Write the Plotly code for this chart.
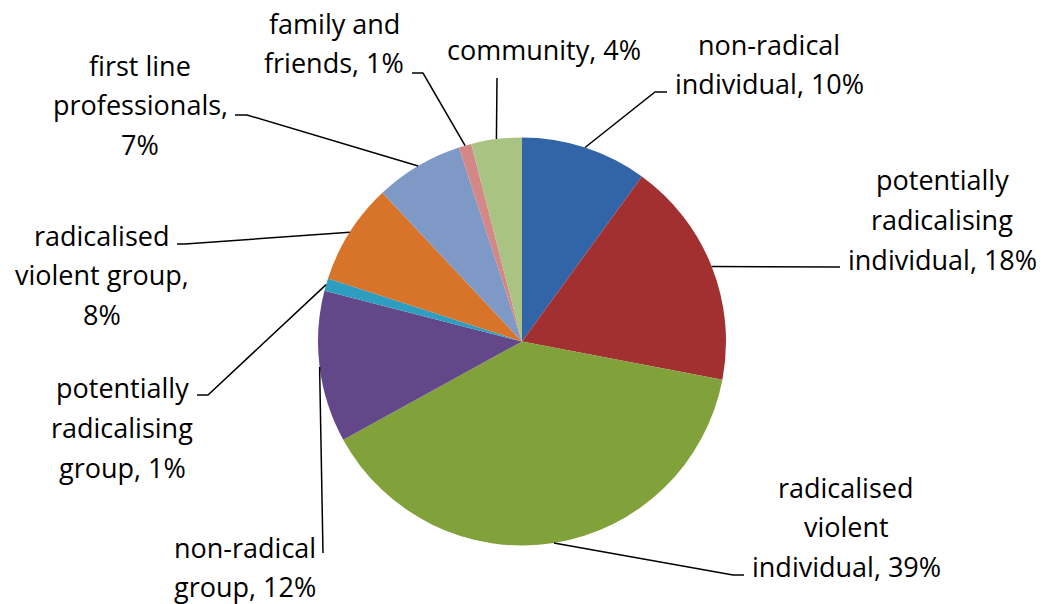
import math
import plotly.graph_objects as go

# ---- data ----
categories = [
    "non-radical individual",
    "potentially radicalising individual",
    "radicalised violent individual",
    "non-radical group",
    "potentially radicalising group",
    "radicalised violent group",
    "first line professionals",
    "family and friends",
    "community",
]
values = [10, 18, 39, 12, 1, 8, 7, 1, 4]
# label text, "|" marks a line break, {p} is the percentage
label_templates = [
    "non-radical|individual, {p}%",
    "potentially|radicalising|individual, {p}%",
    "radicalised|violent|individual, {p}%",
    "non-radical|group, {p}%",
    "potentially|radicalising|group, {p}%",
    "radicalised|violent group,|{p}%",
    "first line|professionals,|{p}%",
    "family and|friends, {p}%",
    "community, {p}%",
]

# ---- style / layout ----
colors = ["#3265A7", "#A33030", "#81A13B", "#634889", "#2E9DC0",
          "#D8742A", "#7F99C7", "#D38787", "#A9C383"]
W, H = 1048, 604
CX, CY, R = 522, 341.5, 204
FONT = dict(family="'Open Sans', Lato, sans-serif", size=27, color="#000000")
LINE_GAP = 39.5
# label centre x and first line centre y (pixels)
label_pos = [(769, 44), (942, 180), (846, 487), (245, 547), (122, 388),
             (102, 235), (140, 65), (334, 23), (544, 50)]
# leader line points after the pie edge (pixels)
leader_pts = [
    [(655, 92), (667, 92)],
    [(840, 267)],
    [(733, 575), (744, 575)],
    [(323, 553)],
    [(208, 395), (197, 395)],
    [(185, 244), (177, 244)],
    [(247, 115), (235, 115)],
    [(423, 73), (412, 73)],
    [(497, 78)],
]


def px(x):
    return x / W


def py(y):
    return 1 - y / H


fig = go.Figure()
fig.add_trace(go.Pie(
    labels=categories, values=values, sort=False, direction="clockwise",
    rotation=0, textinfo="none", hoverinfo="label+percent",
    marker=dict(colors=colors, line=dict(width=0)),
    domain=dict(x=[px(CX - R), px(CX + R)], y=[py(CY + R), py(CY - R)]),
    showlegend=False,
))

total = sum(values)
cum = 0
shapes = []
annotations = []
for i, v in enumerate(values):
    a = 2 * math.pi * (cum + v / 2) / total
    cum += v
    sx = CX + R * math.sin(a)
    sy = CY - R * math.cos(a)
    path = f"M {px(sx)},{py(sy)}"
    for (x, y) in leader_pts[i]:
        path += f" L {px(x)},{py(y)}"
    shapes.append(dict(type="path", path=path, xref="paper", yref="paper",
                       line=dict(color="#000000", width=1.5)))
    lines = label_templates[i].format(p=v).split("|")
    lx, ly = label_pos[i]
    for k, t in enumerate(lines):
        annotations.append(dict(
            text=t, x=px(lx), y=py(ly + k * LINE_GAP), xref="paper", yref="paper",
            xanchor="center", yanchor="middle", showarrow=False, font=FONT,
            borderpad=0,
        ))

fig.update_layout(
    width=W, height=H, margin=dict(l=0, r=0, t=0, b=0),
    paper_bgcolor="#ffffff", plot_bgcolor="#ffffff",
    shapes=shapes, annotations=annotations,
)
fig.write_html("out.html", config={"displayModeBar": False},
               post_script="document.body.style.margin='0';")
